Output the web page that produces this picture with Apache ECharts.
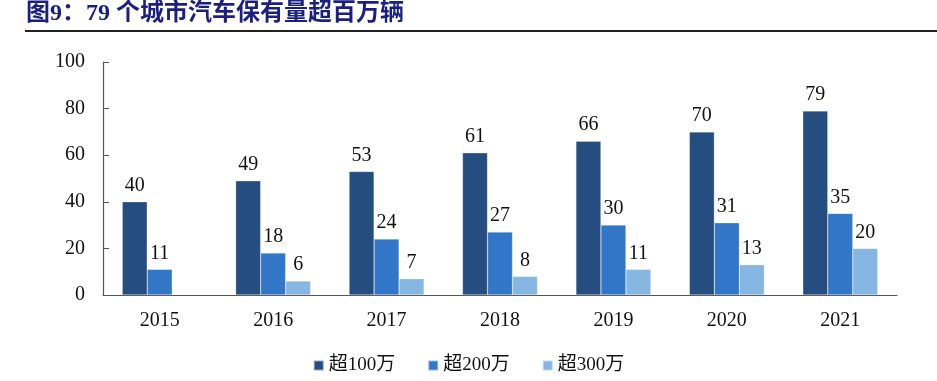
<!DOCTYPE html>
<html><head><meta charset="utf-8">
<script src="https://cdn.jsdelivr.net/npm/echarts@6/dist/echarts.min.js"></script>
<style>html,body{margin:0;padding:0;background:#fff;}#c{width:937px;height:381px;}</style>
</head><body><div id="c"></div>
<script>
const categories = ['2015','2016','2017','2018','2019','2020','2021'];
const seriesNames = ['超100万','超200万','超300万'];
const over100 = [40,49,53,61,66,70,79];
const over200 = [11,18,24,27,30,31,35];
const over300 = [null,6,7,8,11,13,20];
const yTicks = [0,20,40,60,80,100];

const colors = ['#264d80','#3276c7','#86b6e2'];
const serif = '"Liberation Serif","Times New Roman","Noto Sans CJK SC",serif';
const chart = echarts.init(document.getElementById('c'));
const mk = (name, data, i) => ({
  name, type:'bar', data, barWidth:25, barGap:'0%',
  itemStyle:{color:colors[i], borderColor:'rgba(255,255,255,0.5)', borderWidth:0.5},
  label:{show:true, position:'top', distance:6, color:'#111', fontFamily:serif, fontSize:20},
  emphasis:{disabled:true}
});
chart.setOption({
  animation:false,
  color:colors,
  graphic:[
    {type:'text', left:26, top:2, style:{text:'图9：79 个城市汽车保有量超百万辆', fill:'#1b1f80', font:'bold 24px ' + serif}},
    {type:'line', shape:{x1:25, y1:31, x2:937, y2:31}, style:{stroke:'#222', lineWidth:2}}
  ],
  grid:{left:103, right:40, top:62, bottom:86},
  legend:{bottom:1, left:'center', itemWidth:10, itemHeight:10, itemGap:32, icon:'rect',
    textStyle:{fontFamily:serif, fontSize:19, color:'#111'}, data:seriesNames},
  xAxis:{type:'category', data:categories,
    axisLine:{lineStyle:{color:'#555', width:1.2}},
    axisTick:{inside:true, length:6, lineStyle:{color:'#555'}},
    axisLabel:{fontFamily:serif, fontSize:20, color:'#111', margin:16}},
  yAxis:{type:'value', min:0, max:100, interval:20,
    axisLine:{show:true, lineStyle:{color:'#555', width:1.2}},
    axisTick:{show:true, inside:true, length:6, lineStyle:{color:'#555'}},
    splitLine:{show:false},
    axisLabel:{fontFamily:serif, fontSize:20, color:'#111', margin:18,
      formatter:v => yTicks.includes(v) ? String(v) : ''}},
  series:[mk(seriesNames[0], over100, 0), mk(seriesNames[1], over200, 1), mk(seriesNames[2], over300, 2)]
});
</script></body></html>
